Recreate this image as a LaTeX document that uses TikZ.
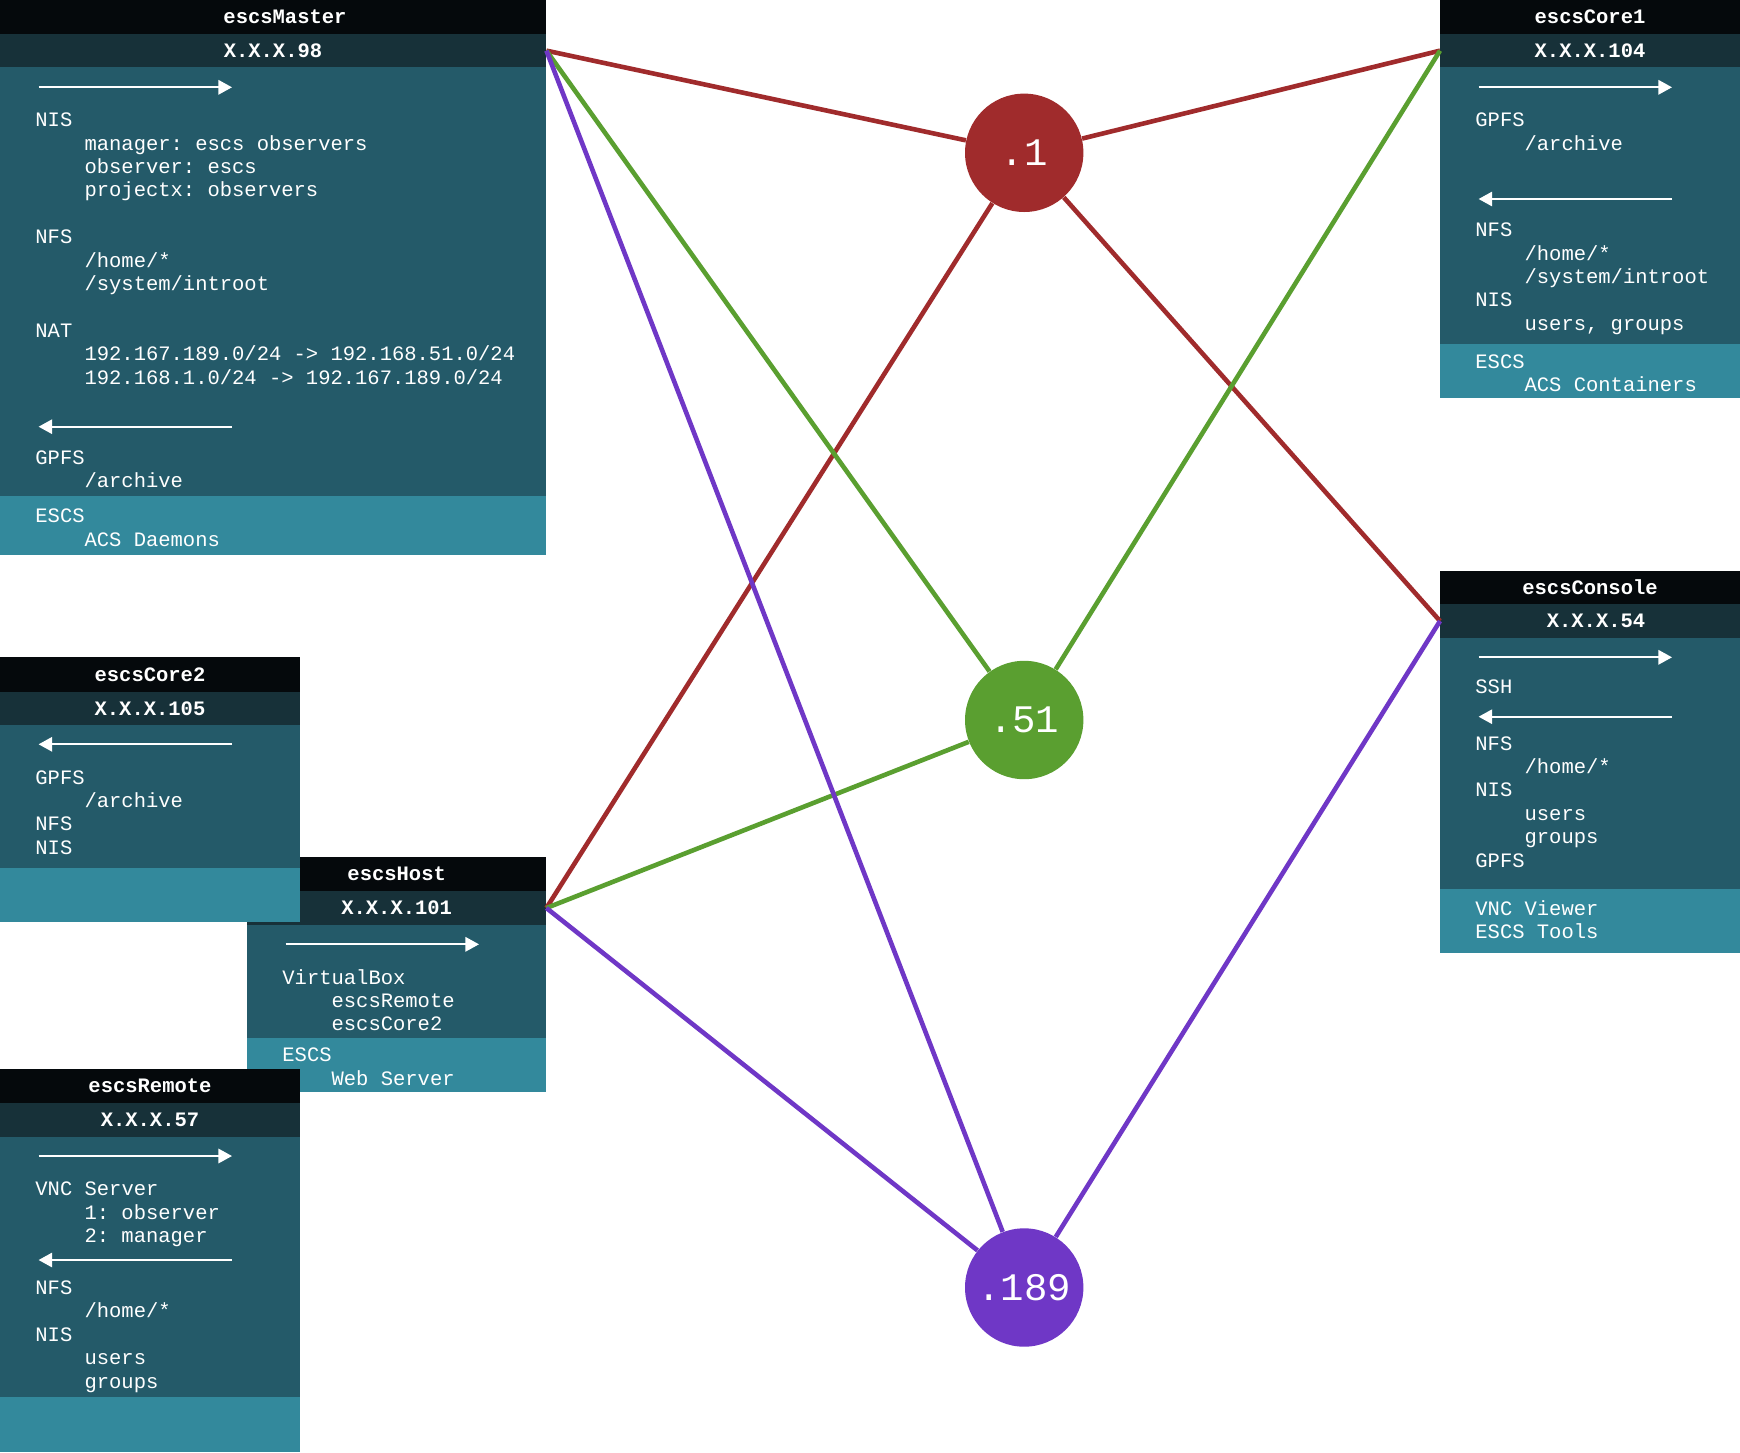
\documentclass[tikz,border=0pt]{standalone}
\usepackage{fontspec}
\setmainfont{Liberation Mono}
\usetikzlibrary{arrows.meta}
\frenchspacing
\definecolor{ctitle}{HTML}{05090C}
\definecolor{cip}{HTML}{173139}
\definecolor{cbody}{HTML}{245A69}
\definecolor{cfoot}{HTML}{33899C}
\definecolor{cred}{HTML}{A02B2C}
\definecolor{cgreen}{HTML}{5A9F30}
\definecolor{cpurple}{HTML}{6F37C6}
\newcommand\bodyf{\fontsize{10.25pt}{11.7pt}\selectfont\frenchspacing}
\newcommand\hubf{\fontsize{19.5pt}{21pt}\selectfont}
\newcommand\indnt{\hspace*{2.4em}}
\newcommand\txtlines[4]{\foreach \t [count=\i from 0] in {#4}{\node[ln] (#1-\i) at (#2,{#3+\i*23.4}) {\t};}}
\tikzset{
  ln/.style={anchor=base west, inner sep=0pt, text=white, font=\bodyf},
  ttl/.style={inner sep=0pt, text=white, font=\bodyf\bfseries},
  hub/.style={circle, inner sep=0pt, minimum size=59.2pt, text=white, font=\hubf},
  link/.style={line width=2.3pt},
  warrow/.style={draw=white, line width=1pt, -{Triangle[length=6.8pt,width=7.2pt]}},
}
\begin{document}
\begin{tikzpicture}[x=0.5pt,y=-0.5pt]
\useasboundingbox (0,0) rectangle (1740,1452);
\fill[white] (0,0) rectangle (1740,1452);

% ---------- escsMaster ----------
\fill[cbody] (0,67.3) rectangle (546.4,496);
\fill[cfoot] (0,496) rectangle (546.4,555.3);
\fill[ctitle] (0,0) rectangle (546.4,34);
\fill[cip] (0,34) rectangle (546.4,67.3);
\node[ttl] (master-t) at (285,17) {escsMaster};
\node[ttl] (master-ip) at (273,50.65) {X.X.X.98};
\coordinate (master-port) at (546.4,50.65);
\draw[warrow] (38.6,87.3) -- (232,87.3);
\txtlines{ma}{35}{126.75}{NIS,{\indnt manager: escs observers},{\indnt observer: escs},{\indnt projectx: observers}}
\txtlines{mb}{35}{243.75}{NFS,{\indnt /home/*},{\indnt /system/introot}}
\txtlines{mc}{35}{337.35}{NAT,{\indnt 192.167.189.0/24 -> 192.168.51.0/24},{\indnt 192.168.1.0/24 -> 192.167.189.0/24}}
\draw[warrow] (232,426.7) -- (38.6,426.7);
\txtlines{md}{35}{464.45}{GPFS,{\indnt /archive}}
\txtlines{me}{35}{522.75}{ESCS,{\indnt ACS Daemons}}

% ---------- escsCore1 ----------
\fill[cbody] (1440,67.3) rectangle (1740,344.3);
\fill[cfoot] (1440,344.3) rectangle (1740,398.3);
\fill[ctitle] (1440,0) rectangle (1740,34);
\fill[cip] (1440,34) rectangle (1740,67.3);
\node[ttl] (core1-t) at (1590,17) {escsCore1};
\node[ttl] (core1-ip) at (1590,50.65) {X.X.X.104};
\coordinate (core1-port) at (1440,50.65);
\draw[warrow] (1478.6,87.3) -- (1672,87.3);
\txtlines{ca}{1475}{126.75}{GPFS,{\indnt /archive}}
\draw[warrow] (1672,199) -- (1478.6,199);
\txtlines{cb}{1475}{236.75}{NFS,{\indnt /home/*},{\indnt /system/introot},NIS,{\indnt users, groups}}
\txtlines{cc}{1475}{368.45}{ESCS,{\indnt ACS Containers}}

% ---------- escsConsole ----------
\fill[cbody] (1440,637.7) rectangle (1740,889.3);
\fill[cfoot] (1440,889.3) rectangle (1740,952.7);
\fill[ctitle] (1440,570.7) rectangle (1740,604.3);
\fill[cip] (1440,604.3) rectangle (1740,637.7);
\node[ttl] (console-t) at (1590,587.5) {escsConsole};
\node[ttl] (console-ip) at (1596,621) {X.X.X.54};
\coordinate (console-port) at (1440,621);
\draw[warrow] (1478.6,657.3) -- (1672,657.3);
\txtlines{sa}{1475}{693.45}{SSH}
\draw[warrow] (1672,716.7) -- (1478.6,716.7);
\txtlines{sb}{1475}{750.05}{NFS,{\indnt /home/*},NIS,{\indnt users},{\indnt groups},GPFS}
\txtlines{sc}{1475}{915.05}{VNC Viewer,ESCS Tools}

% ---------- escsHost ----------
\fill[cbody] (247,925) rectangle (546.4,1037.7);
\fill[cfoot] (247,1037.7) rectangle (546.4,1091.7);
\fill[ctitle] (247,857.3) rectangle (546.4,891);
\fill[cip] (247,891) rectangle (546.4,925);
\node[ttl] (host-t) at (396.7,874.15) {escsHost};
\node[ttl] (host-ip) at (396.7,908) {X.X.X.101};
\coordinate (host-port) at (546.4,908);
\draw[warrow] (285.6,944.3) -- (479,944.3);
\txtlines{ha}{282}{984.05}{VirtualBox,{\indnt escsRemote},{\indnt escsCore2}}
\txtlines{hb}{282}{1061.75}{ESCS,{\indnt Web Server}}

% ---------- escsCore2 ----------
\fill[cbody] (0,725) rectangle (300,868);
\fill[cfoot] (0,868) rectangle (300,922.3);
\fill[ctitle] (0,657.3) rectangle (300,691.7);
\fill[cip] (0,691.7) rectangle (300,725);
\node[ttl] (core2-t) at (150,674.5) {escsCore2};
\node[ttl] (core2-ip) at (150,708.35) {X.X.X.105};
\draw[warrow] (232,744.3) -- (38.6,744.3);
\txtlines{ka}{35}{784.05}{GPFS,{\indnt /archive},NFS,NIS}

% ---------- escsRemote ----------
\fill[cbody] (0,1137) rectangle (300,1397);
\fill[cfoot] (0,1397) rectangle (300,1452);
\fill[ctitle] (0,1069) rectangle (300,1103);
\fill[cip] (0,1103) rectangle (300,1137);
\node[ttl] (remote-t) at (150,1086) {escsRemote};
\node[ttl] (remote-ip) at (150,1120) {X.X.X.57};
\draw[warrow] (38.6,1156) -- (232,1156);
\txtlines{ra}{35}{1195.75}{VNC Server,{\indnt 1: observer},{\indnt 2: manager}}
\draw[warrow] (232,1260) -- (38.6,1260);
\txtlines{rb}{35}{1294.45}{NFS,{\indnt /home/*},NIS,{\indnt users},{\indnt groups}}

% ---------- hubs ----------
\node[hub, fill=cred] (n1) at (1024.2,152.8) {.1};
\node[hub, fill=cgreen] (n51) at (1024.2,720) {.51};
\node[hub, fill=cpurple] (n189) at (1024.2,1287.5) {.189};

% ---------- links ----------
\draw[link, cred] (master-port) -- (n1);
\draw[link, cred] (core1-port) -- (n1);
\draw[link, cred] (n1) -- (host-port);
\draw[link, cred] (n1) -- (console-port);
\draw[link, cgreen] (master-port) -- (n51);
\draw[link, cgreen] (core1-port) -- (n51);
\draw[link, cgreen] (host-port) -- (n51);
\draw[link, cpurple] (master-port) -- (n189);
\draw[link, cpurple] (host-port) -- (n189);
\draw[link, cpurple] (console-port) -- (n189);
\end{tikzpicture}
\end{document}
